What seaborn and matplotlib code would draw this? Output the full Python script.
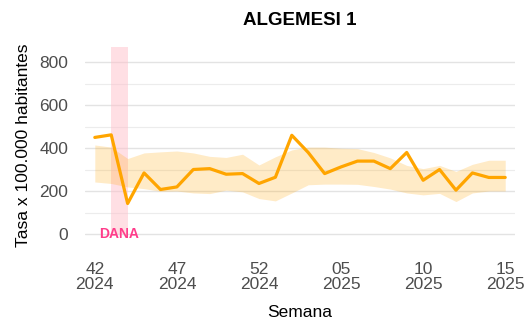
import matplotlib
matplotlib.use("Agg")
import matplotlib.pyplot as plt
import seaborn as sns
import pandas as pd
import numpy as np

# Weekly incidence, epidemiological weeks 42/2024 - 15/2025
semanas = ["42", "43", "44", "45", "46", "47", "48", "49", "50", "51", "52",
           "01", "02", "03", "04", "05", "06", "07", "08", "09", "10",
           "11", "12", "13", "14", "15"]
anios = [2024] * 11 + [2025] * 15
tasa = [450, 462, 143, 285, 208, 220, 301, 305, 279, 282, 236,
        265, 460, 380, 282, 313, 340, 340, 305, 380, 251,
        301, 205, 285, 264, 264]
banda_sup = [415, 405, 352, 378, 383, 387, 378, 362, 357, 372, 322,
             360, 392, 405, 405, 400, 398, 380, 355, 320, 305,
             320, 292, 325, 344, 344]
banda_inf = [243, 236, 220, 212, 200, 201, 192, 189, 205, 197, 166,
             155, 192, 230, 233, 233, 232, 222, 210, 192, 183,
             190, 152, 192, 201, 201]

# DANA flood episode (week 43-44 of 2024)
dana_inicio, dana_fin = 1, 2
dana_altura = 870

df = pd.DataFrame({
    "idx": np.arange(len(semanas)),
    "semana": semanas,
    "anio": anios,
    "tasa": tasa,
    "inf": banda_inf,
    "sup": banda_sup,
})

sns.set_theme(style="white")
plt.rcParams["font.family"] = ["Liberation Sans", "DejaVu Sans"]
plt.rcParams["text.color"] = "black"
plt.rcParams["axes.labelcolor"] = "black"

fig = plt.figure(figsize=(5.31, 3.2), dpi=100)
ax = fig.add_axes([0.160, 0.241, 0.810, 0.612])

# grid: major every 200, minor every 100
ax.set_yticks([0, 200, 400, 600, 800])
ax.set_yticks([100, 300, 500, 700], minor=True)
ax.yaxis.grid(True, which="major", color="#e3e3e3", linewidth=1.0)
ax.yaxis.grid(True, which="minor", color="#ececec", linewidth=0.8)
ax.xaxis.grid(False)
ax.set_axisbelow(True)

ax.fill_between([dana_inicio, dana_fin], 0, dana_altura,
                color="#ffc0cb", alpha=0.5, linewidth=0, zorder=1)

ax.fill_between(df["idx"], df["inf"], df["sup"], color="#ffa500",
                alpha=0.22, linewidth=0, zorder=2)
sns.lineplot(data=df, x="idx", y="tasa", ax=ax, color="#ffa500",
             linewidth=2.3, zorder=3)

ax.text((dana_inicio + dana_fin) / 2, 0, "DANA", color="#ff3d8b",
        fontsize=10, fontweight="bold", ha="center", va="center", zorder=4)

ticks = df["idx"][::5]
ax.set_xticks(ticks)
ax.set_xticklabels([f"{s}\n{a}" for s, a in zip(df["semana"][::5], df["anio"][::5])],
                   linespacing=1.0)
ax.set_xlim(-0.6, 25.6)
ax.set_ylim(-40, 870)

ax.tick_params(axis="both", which="both", length=0, labelsize=12.5,
               labelcolor="#4d4d4d")
ax.tick_params(axis="x", pad=14)
ax.tick_params(axis="y", pad=12)

for s in ax.spines.values():
    s.set_visible(False)

ax.set_xlabel("Semana", fontsize=12.5, labelpad=9)
ax.set_ylabel("Tasa x 100.000 habitantes", fontsize=12.5, labelpad=6)
ax.set_title("ALGEMESI 1", fontsize=13.5, fontweight="bold", pad=16,
             color="black")

fig.savefig("out.png", dpi=100)
